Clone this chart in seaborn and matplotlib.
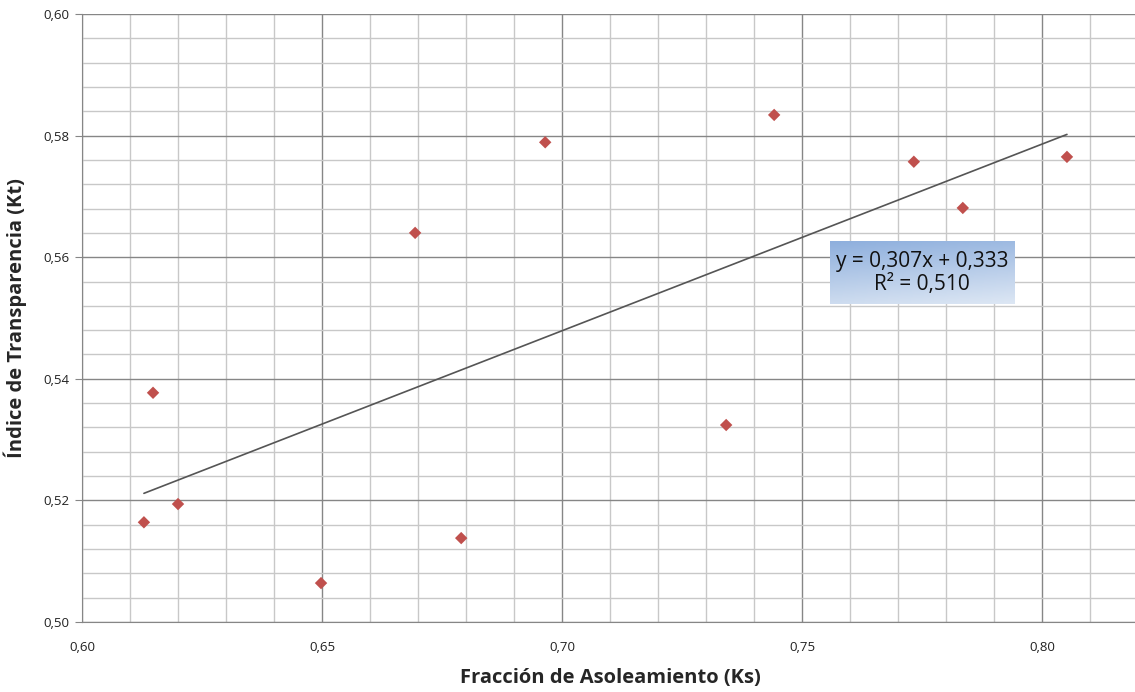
import numpy as np
import pandas as pd
import matplotlib
matplotlib.use("Agg")
import matplotlib.pyplot as plt
from matplotlib.ticker import MultipleLocator, FuncFormatter
from matplotlib.colors import LinearSegmentedColormap
import seaborn as sns

ks = [0.6129, 0.6148, 0.6200, 0.6498, 0.6694, 0.6790, 0.6965, 0.7342, 0.7442, 0.7733, 0.7835, 0.8052]
kt = [0.5164, 0.5377, 0.5194, 0.5064, 0.5640, 0.5138, 0.5789, 0.5324, 0.5834, 0.5757, 0.5681, 0.5765]
slope = 0.307
intercept = 0.333
eq_text = "y = 0,307x + 0,333\nR² = 0,510"

df = pd.DataFrame({"Ks": ks, "Kt": kt})

sns.set_style("white")
plt.rcParams['font.family'] = ['Open Sans', 'DejaVu Sans']

fig = plt.figure(figsize=(11.35, 6.92), dpi=100)
ax = fig.add_axes([82/1135, 1 - 622/692, (1138-82)/1135, (622-14)/692])

ax.xaxis.set_major_locator(MultipleLocator(0.05))
ax.xaxis.set_minor_locator(MultipleLocator(0.01))
ax.yaxis.set_major_locator(MultipleLocator(0.02))
ax.yaxis.set_minor_locator(MultipleLocator(0.004))
ax.grid(which='major', color='#868686', linewidth=1.0)
ax.grid(which='minor', color='#c8c8c8', linewidth=1.0)
ax.set_axisbelow(True)

fmt = FuncFormatter(lambda v, p: f"{v:.2f}".replace('.', ','))
ax.xaxis.set_major_formatter(fmt)
ax.yaxis.set_major_formatter(fmt)
ax.tick_params(axis='both', which='major', labelsize=9.5, colors='#222222', length=5)
ax.tick_params(axis='x', which='major', pad=14, length=0)
ax.tick_params(axis='y', which='major', pad=4, direction='out', left=True, color='#868686')
ax.tick_params(which='minor', length=0)

for s in ['top', 'right']:
    ax.spines[s].set_visible(False)
ax.spines['left'].set_color('#868686')
ax.spines['bottom'].set_color('#868686')

xs = np.array([min(ks), max(ks)])
ax.plot(xs, slope * xs + intercept, color='#555555', linewidth=1.2, zorder=2)

sns.scatterplot(data=df, x="Ks", y="Kt", ax=ax, marker='D', s=40, color='#C0504D',
                edgecolor='none', zorder=3)

# gradient box for the equation
x0, x1, y0, y1 = 0.7558, 0.7942, 0.5523, 0.5625
gy = np.linspace(0, 1, 100)
gx = np.linspace(0, 1, 100)
g = 0.8 * gy[:, None] + 0.2 * (1 - gx[None, :])
cmap = LinearSegmentedColormap.from_list('b', ['#dde7f4', '#8eafdd'])
ax.imshow(g, extent=[x0, x1, y0, y1], cmap=cmap, aspect='auto', origin='lower', zorder=4)
ax.set_xlim(0.60, 0.82)
ax.set_ylim(0.50, 0.60)
ax.text((x0 + x1) / 2, (y0 + y1) / 2, eq_text, ha='center', va='center',
        multialignment='center', fontsize=15, color='#111111', linespacing=1.1, zorder=5)

ax.set_xlabel("Fracción de Asoleamiento (Ks)", fontsize=14.5, fontweight='bold', labelpad=10)
ax.set_ylabel("Índice de Transparencia (Kt)", fontsize=14.5, fontweight='bold', labelpad=12)

fig.savefig("out.png", dpi=100)
